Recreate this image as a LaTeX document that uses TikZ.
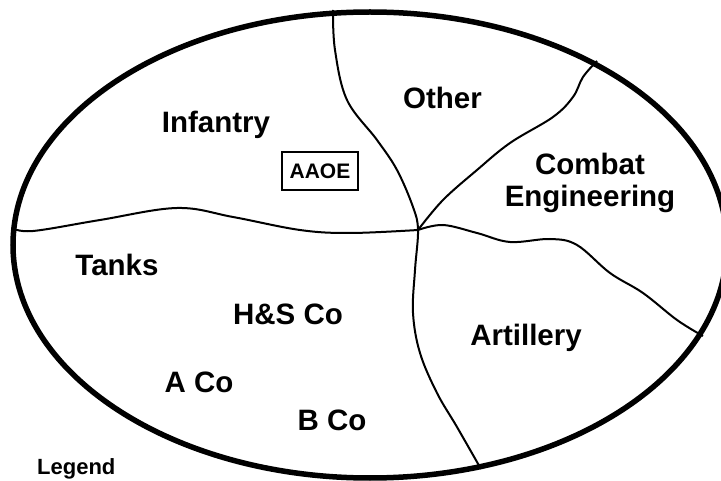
\documentclass[tikz,border=0pt]{standalone}
\usepackage{fontspec}
\setmainfont{Liberation Sans}
\newcommand\unittextstyle{\fontsize{29.5}{31}\selectfont\bfseries}
\newcommand\boxtextstyle{\fontsize{21}{22}\selectfont\bfseries}
\newcommand\legendtextstyle{\fontsize{22}{24}\selectfont\bfseries}
\tikzset{
  rim/.style={line width=5.5pt},
  divider/.style={line width=2pt, line join=round},
  unitlabel/.style={anchor=base, inner sep=0pt, align=center, font=\unittextstyle},
  symbolbox/.style={draw, line width=1.6pt, minimum width=76pt, minimum height=38pt, inner sep=0pt, font=\boxtextstyle},
}
\begin{document}
\begin{tikzpicture}[x=1pt, y=-1pt]
    \clip (0,0) rectangle (721,481) ;
    \draw[rim] (370,245) ellipse [x radius=357, y radius=233] ;
    \coordinate (hub) at (418,230) ;
    \draw[divider] plot[smooth, tension=0.6] coordinates {(12,228) (33,231) (100,220) (177,208) (233,217) (300,230) (350,233) (hub)} ;
    \draw[divider] plot[smooth, tension=0.6] coordinates {(333,10) (335,50) (347,100) (377,140) (397,170) (413,207) (hub) (415,270) (413,313) (420,353) (437,393) (457,427) (481,469)} ;
    \draw[divider] plot[smooth, tension=0.6] coordinates {(hub) (443,200) (477,170) (510,143) (553,117) (573,97) (583,77) (597,61)} ;
    \draw[divider] plot[smooth, tension=0.6] coordinates {(hub) (443,225) (477,233) (510,242) (550,239) (577,245) (610,273) (643,293) (677,320) (703,336)} ;
    \node[unitlabel] (infantry) at (216,133) {Infantry} ;
    \node[unitlabel] (other) at (442.5,109) {Other} ;
    \node[unitlabel] (combat) at (590,175) {Combat} ;
    \node[unitlabel] (engineering) at (590,207) {Engineering} ;
    \node[unitlabel] (tanks) at (117,276) {Tanks} ;
    \node[unitlabel] (hsco) at (288,325) {H\&S Co} ;
    \node[unitlabel] (artillery) at (526,346) {Artillery} ;
    \node[unitlabel] (aco) at (199,392) {A Co} ;
    \node[unitlabel] (bco) at (332,430) {B Co} ;
    \node[symbolbox] (aaoe) at (320,171) {AAOE} ;
    \node[anchor=base west, inner sep=0pt, font=\legendtextstyle] (legend) at (37,474) {Legend} ;
  \end{tikzpicture}
\end{document}
